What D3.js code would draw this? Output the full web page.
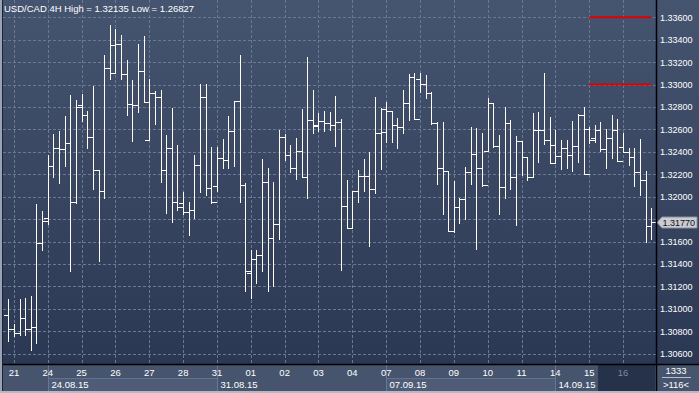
<!DOCTYPE html>
<html>
<head>
<meta charset="utf-8">
<script src="https://cdnjs.cloudflare.com/ajax/libs/d3/7.8.5/d3.min.js"></script>
<style>
  body { margin: 0; background: #3a4863; }
  svg { display: block; font-family: "Liberation Sans", Arial, sans-serif; }
</style>
</head>
<body>
<div id="chart"></div>
<script>
// 4H bars, oldest first (Aug 20 last bar .. Sep 16)
var opens = [
  1.30940, 1.30815, 1.30785, 1.30922, 1.30815, 1.30838, 1.31591, 1.31806, 1.32270, 1.32431,
  1.32422, 1.32478, 1.31954, 1.32821, 1.32725, 1.32529, 1.32237, 1.32050, 1.33148, 1.33100,
  1.33359, 1.33091, 1.32823, 1.32818, 1.33118, 1.32502, 1.32922, 1.32886, 1.32234, 1.32431,
  1.31954, 1.31946, 1.31865, 1.31880, 1.32285, 1.32889, 1.32079, 1.32097, 1.32341, 1.32324,
  1.32582, 1.32853, 1.32103, 1.31315, 1.31448, 1.31478, 1.32127, 1.31630, 1.31752, 1.32529,
  1.32368, 1.32252, 1.32404, 1.32172, 1.32681, 1.32639, 1.32672, 1.32654, 1.32639, 1.32663,
  1.31913, 1.31716, 1.32053, 1.32181, 1.32181, 1.32068, 1.32568, 1.32573, 1.32761, 1.32639,
  1.32618, 1.32832, 1.33065, 1.33047, 1.33002, 1.32922, 1.32654, 1.32252, 1.32228, 1.31696,
  1.31904, 1.31981, 1.32219, 1.32377, 1.32252, 1.32404, 1.32832, 1.32449, 1.32082, 1.32654,
  1.32172, 1.32493, 1.32350, 1.32172, 1.32594, 1.32594, 1.32502, 1.32457, 1.32359, 1.32431,
  1.32368, 1.32449, 1.32725, 1.32606, 1.32520, 1.32594, 1.32428, 1.32520, 1.32591, 1.32440,
  1.32395, 1.32350, 1.32219, 1.32148, 1.31734
];
var highs = [
  1.31085, 1.30868, 1.31085, 1.31094, 1.31112, 1.31934, 1.31871, 1.32371, 1.32559, 1.32585,
  1.32719, 1.32907, 1.32859, 1.32916, 1.32764, 1.32990, 1.32237, 1.33261, 1.33532, 1.33496,
  1.33442, 1.33219, 1.33041, 1.33362, 1.33434, 1.33047, 1.32940, 1.32948, 1.32550, 1.32788,
  1.32460, 1.32044, 1.31949, 1.32371, 1.33002, 1.33005, 1.32443, 1.32446, 1.32514, 1.32719,
  1.32853, 1.33264, 1.32118, 1.31523, 1.31523, 1.32335, 1.32255, 1.32133, 1.32594, 1.32559,
  1.32460, 1.32523, 1.32782, 1.33246, 1.32951, 1.32749, 1.32761, 1.32755, 1.32898, 1.32693,
  1.32151, 1.32053, 1.32237, 1.32335, 1.32401, 1.32889, 1.32788, 1.32841, 1.32761, 1.32701,
  1.32951, 1.33094, 1.33103, 1.33100, 1.33082, 1.32931, 1.32663, 1.32663, 1.32228, 1.32139,
  1.31987, 1.32264, 1.32618, 1.32612, 1.32568, 1.32880, 1.32832, 1.32550, 1.32800, 1.32681,
  1.32541, 1.32493, 1.32350, 1.32746, 1.32758, 1.33103, 1.32710, 1.32591, 1.32502, 1.32502,
  1.32675, 1.32734, 1.32800, 1.32621, 1.32639, 1.32666, 1.32603, 1.32728, 1.32690, 1.32568,
  1.32434, 1.32434, 1.32511, 1.32228, 1.31898
];
var lows = [
  1.30713, 1.30758, 1.30770, 1.30764, 1.30630, 1.30696, 1.31523, 1.31755, 1.32175, 1.32124,
  1.32276, 1.31335, 1.31940, 1.32675, 1.32437, 1.32071, 1.31428, 1.31990, 1.33053, 1.33100,
  1.33053, 1.32731, 1.32499, 1.32758, 1.32847, 1.32502, 1.32651, 1.32133, 1.31856, 1.31776,
  1.31883, 1.31847, 1.31657, 1.31812, 1.32044, 1.32014, 1.31946, 1.32050, 1.32258, 1.32258,
  1.32276, 1.31954, 1.31160, 1.31097, 1.31231, 1.31335, 1.31160, 1.31201, 1.31624, 1.32326,
  1.32222, 1.32160, 1.32172, 1.31984, 1.32565, 1.32588, 1.32588, 1.32594, 1.32454, 1.31347,
  1.31716, 1.31716, 1.31949, 1.32053, 1.31562, 1.32035, 1.32246, 1.32487, 1.32487, 1.32437,
  1.32571, 1.32684, 1.32696, 1.32937, 1.32883, 1.32648, 1.32115, 1.31844, 1.31696, 1.31687,
  1.31767, 1.31803, 1.32109, 1.31535, 1.32097, 1.32404, 1.32446, 1.31847, 1.31990, 1.32071,
  1.31749, 1.32193, 1.32151, 1.32172, 1.32312, 1.32472, 1.32297, 1.32300, 1.32249, 1.32258,
  1.32231, 1.32312, 1.32199, 1.32481, 1.32490, 1.32410, 1.32258, 1.32347, 1.32315, 1.32395,
  1.32285, 1.32097, 1.32017, 1.31600, 1.31618
];
var closes = [
  1.30815, 1.30785, 1.30922, 1.30815, 1.30838, 1.31591, 1.31779, 1.32270, 1.32431, 1.32422,
  1.32478, 1.31954, 1.32797, 1.32725, 1.32529, 1.32237, 1.32050, 1.33148, 1.33350, 1.33359,
  1.33091, 1.32823, 1.32818, 1.33118, 1.32847, 1.32922, 1.32886, 1.32234, 1.32431, 1.31954,
  1.31907, 1.31865, 1.31880, 1.32285, 1.32889, 1.32079, 1.31949, 1.32341, 1.32324, 1.32582,
  1.32853, 1.32103, 1.31341, 1.31448, 1.31478, 1.32127, 1.31630, 1.31752, 1.32529, 1.32368,
  1.32252, 1.32404, 1.32172, 1.32681, 1.32630, 1.32672, 1.32654, 1.32639, 1.32663, 1.31913,
  1.31716, 1.32053, 1.32181, 1.32181, 1.32068, 1.32568, 1.32782, 1.32761, 1.32639, 1.32618,
  1.32832, 1.33065, 1.32696, 1.33002, 1.32922, 1.32654, 1.32252, 1.32228, 1.31696, 1.31904,
  1.31981, 1.32219, 1.32377, 1.32252, 1.32100, 1.32832, 1.32449, 1.32082, 1.32654, 1.32172,
  1.32493, 1.32350, 1.32172, 1.32594, 1.32594, 1.32502, 1.32297, 1.32359, 1.32431, 1.32368,
  1.32449, 1.32725, 1.32199, 1.32508, 1.32594, 1.32428, 1.32520, 1.32591, 1.32315, 1.32395,
  1.32350, 1.32219, 1.32148, 1.31734, 1.31770
];

var dayLabels = ["21", "24", "25", "26", "27", "28", "31", "01", "02", "03",
                 "04", "07", "08", "09", "10", "11", "14", "15", "16"];
var weekLabels = ["24.08.15", "31.08.15", "07.09.15", "14.09.15"];
var weekStartDays = [1, 6, 11, 16];   // position in dayLabels
var priceTicks = [1.306, 1.308, 1.310, 1.312, 1.314, 1.316, 1.318, 1.320,
                  1.322, 1.324, 1.326, 1.328, 1.330, 1.332, 1.334, 1.336];
var levelLines = [1.336, 1.330];
var lastPrice = 1.31770;
var title = "USD/CAD 4H High = 1.32135 Low = 1.26827";
var barsPerDay = 6;
var firstDayBar = 1;

var W = 699, H = 393;
var plotLeft = 3, plotRight = 656, plotBottom = 364;
var fontSize = "9px";

var svg = d3.select("#chart").append("svg")
  .attr("width", W)
  .attr("height", H);

// background gradient
var defs = svg.append("defs");
var grad = defs.append("linearGradient")
  .attr("id", "bg")
  .attr("x1", 0).attr("y1", 0).attr("x2", 0).attr("y2", 1);
grad.append("stop").attr("offset", "0%").attr("stop-color", "#45546f");
grad.append("stop").attr("offset", "100%").attr("stop-color", "#2b3854");

svg.append("rect")
  .attr("width", W).attr("height", plotBottom)
  .attr("fill", "url(#bg)");

var x = d3.scaleLinear()
  .domain([0, opens.length - 1])
  .range([8.3, 8.3 + 5.64 * (opens.length - 1)]);
var y = d3.scaleLinear()
  .domain([1.306, 1.336])
  .range([353.6, 17.3]);

function px(v) { return Math.round(v) + 0.5; }

// horizontal grid
svg.append("g").selectAll("line")
  .data(priceTicks)
  .enter().append("line")
  .attr("x1", plotLeft).attr("x2", plotRight)
  .attr("y1", function (d) { return px(y(d)); })
  .attr("y2", function (d) { return px(y(d)); })
  .attr("stroke", "#6a7894")
  .attr("stroke-dasharray", "3,2");

// vertical grid, one per day
svg.append("g").selectAll("line")
  .data(dayLabels)
  .enter().append("line")
  .attr("x1", function (d, i) { return px(x(firstDayBar + i * barsPerDay)); })
  .attr("x2", function (d, i) { return px(x(firstDayBar + i * barsPerDay)); })
  .attr("y1", 0).attr("y2", plotBottom)
  .attr("stroke", "#6a7894")
  .attr("stroke-dasharray", "3,2");

// red level lines for the current days
var lastDayStart = firstDayBar + (dayLabels.length - 2) * barsPerDay;
svg.append("g").selectAll("line")
  .data(levelLines)
  .enter().append("line")
  .attr("x1", x(lastDayStart)).attr("x2", x(opens.length - 1))
  .attr("y1", function (d) { return y(d); })
  .attr("y2", function (d) { return y(d); })
  .attr("stroke", "#e00000")
  .attr("stroke-width", 2);

// OHLC bars
var bars = svg.append("g")
  .attr("stroke", "#fffaf4")
  .attr("stroke-width", 1)
  .attr("shape-rendering", "crispEdges");

opens.forEach(function (o, i) {
  var cx = px(x(i));
  bars.append("line")
    .attr("x1", cx).attr("x2", cx)
    .attr("y1", Math.round(y(highs[i]))).attr("y2", Math.round(y(lows[i])) + 1);
  bars.append("line")
    .attr("x1", cx - 5).attr("x2", cx)
    .attr("y1", px(y(o))).attr("y2", px(y(o)));
  bars.append("line")
    .attr("x1", cx).attr("x2", cx + 5)
    .attr("y1", px(y(closes[i]))).attr("y2", px(y(closes[i])));
});

// title
svg.append("text")
  .attr("x", 4).attr("y", 12)
  .attr("fill", "#ffffff")
  .attr("font-size", "9.5px")
  .text(title);

// left border strip
svg.append("rect").attr("x", 0).attr("y", 0).attr("width", 2).attr("height", H).attr("fill", "#9aa3b4");
svg.append("rect").attr("x", 2).attr("y", 0).attr("width", 1).attr("height", H).attr("fill", "#1b2334");

// price axis labels (the one hidden under the last price marker is left out)
var ly = Math.round(y(lastPrice)) + 0.5;
svg.append("g").selectAll("text")
  .data(priceTicks.filter(function (d) { return Math.abs(y(d) - ly) > 9; }))
  .enter().append("text")
  .attr("x", 660)
  .attr("y", function (d) { return y(d) + 3.5; })
  .attr("fill", "#ffffff")
  .attr("font-size", fontSize)
  .text(function (d) { return d3.format(".5f")(d); });

// last price marker
svg.append("path")
  .attr("d", "M657," + ly + " L662," + (ly - 5.5) + " L697," + (ly - 5.5) + " L697," + (ly + 5.5) + " L662," + (ly + 5.5) + " Z")
  .attr("fill", "#c9ccd3")
  .attr("stroke", "#8a909c");
svg.append("text")
  .attr("x", 662.5).attr("y", ly + 3.3)
  .attr("fill", "#111111")
  .attr("font-size", fontSize)
  .text(d3.format(".5f")(lastPrice));

// bottom time panel
svg.append("rect")
  .attr("x", 3).attr("y", plotBottom).attr("width", W - 3).attr("height", 27)
  .attr("fill", "#46546e");

var weekX = weekStartDays.map(function (d) { return px(x(firstDayBar + d * barsPerDay)); });
weekX.forEach(function (wx, i) {
  var nx = i < weekX.length - 1 ? weekX[i + 1] : px(x(lastDayStart + barsPerDay)) - 1;
  if (i % 2 === 0) {
    svg.append("rect")
      .attr("x", wx).attr("y", 378).attr("width", nx - wx).attr("height", 13)
      .attr("fill", "#4e5c78");
    svg.append("line")
      .attr("x1", wx).attr("x2", nx).attr("y1", 378.5).attr("y2", 378.5)
      .attr("stroke", "#64718c");
  }
  svg.append("line")
    .attr("x1", wx).attr("x2", wx).attr("y1", plotBottom).attr("y2", 391)
    .attr("stroke", "#6a7792");
  svg.append("text")
    .attr("x", wx + 3).attr("y", 388)
    .attr("fill", "#ffffff")
    .attr("font-size", "9.5px")
    .text(weekLabels[i]);
});

// current day box
svg.append("rect")
  .attr("x", 598).attr("y", 365).attr("width", 57).attr("height", 26)
  .attr("fill", "#26324a");

svg.append("g").selectAll("text")
  .data(dayLabels)
  .enter().append("text")
  .attr("x", function (d, i) { return x(firstDayBar + i * barsPerDay); })
  .attr("y", 376)
  .attr("text-anchor", "middle")
  .attr("fill", function (d, i) { return i === dayLabels.length - 1 ? "#7d8aa3" : "#ffffff"; })
  .attr("font-size", "9.5px")
  .text(function (d) { return d; });

// right-bottom info
svg.append("text")
  .attr("x", 676).attr("y", 374)
  .attr("text-anchor", "middle").attr("fill", "#ffffff").attr("font-size", "9.5px")
  .text("1333");
svg.append("line")
  .attr("x1", 662).attr("x2", 691).attr("y1", 377.5).attr("y2", 377.5)
  .attr("stroke", "#b9bfca");
svg.append("text")
  .attr("x", 676).attr("y", 388)
  .attr("text-anchor", "middle").attr("fill", "#ffffff").attr("font-size", "9.5px")
  .text(">116<");

// frame lines
svg.append("line")
  .attr("x1", plotRight + 0.5).attr("x2", plotRight + 0.5).attr("y1", 0).attr("y2", 391)
  .attr("stroke", "#000000").attr("stroke-width", 1.5);
svg.append("line")
  .attr("x1", 3).attr("x2", W).attr("y1", plotBottom + 0.5).attr("y2", plotBottom + 0.5)
  .attr("stroke", "#000000").attr("stroke-width", 1.5);
svg.append("rect")
  .attr("x", 0).attr("y", 391).attr("width", W).attr("height", 2)
  .attr("fill", "#b4b9c3");
</script>
</body>
</html>
